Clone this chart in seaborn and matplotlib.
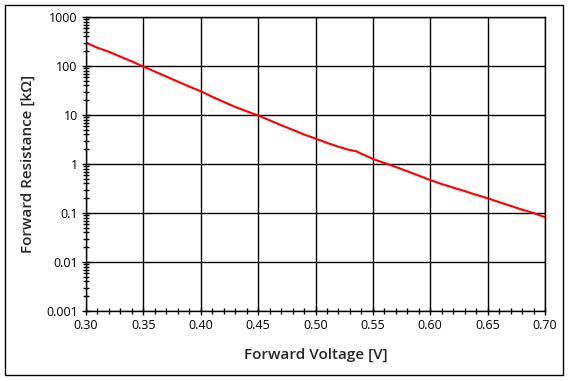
import matplotlib
matplotlib.use("Agg")
from matplotlib import pyplot as plt
from matplotlib.patches import Rectangle
from matplotlib.ticker import MultipleLocator, LogLocator, FixedLocator, FixedFormatter, NullFormatter
import pandas as pd
import seaborn as sns

# forward voltage [V] vs forward resistance [kOhm]
voltage = [0.30, 0.31, 0.32, 0.33, 0.34, 0.35, 0.36, 0.37, 0.38, 0.39,
           0.40, 0.41, 0.42, 0.43, 0.44, 0.45, 0.46, 0.47, 0.48, 0.49,
           0.50, 0.51, 0.52, 0.53, 0.535, 0.54, 0.55, 0.56, 0.57,
           0.58, 0.59, 0.60, 0.61, 0.62, 0.63, 0.64, 0.65, 0.66, 0.67,
           0.68, 0.69, 0.70]
resistance = [300, 235, 195, 155, 124, 97, 77, 61, 48, 38,
              30.5, 23.5, 18.5, 14.6, 11.9, 9.8, 7.8, 6.2, 5.0, 4.0,
              3.3, 2.7, 2.25, 1.92, 1.84, 1.62, 1.27, 1.05, 0.87,
              0.71, 0.58, 0.47, 0.39, 0.33, 0.28, 0.235, 0.2, 0.167, 0.14,
              0.117, 0.1, 0.082]

y_ticks = [0.001, 0.01, 0.1, 1, 10, 100, 1000]
y_tick_labels = ["0.001", "0.01", "0.1", "1", "10", "100", "1000"]
x_ticks = [0.30, 0.35, 0.40, 0.45, 0.50, 0.55, 0.60, 0.65, 0.70]
x_tick_labels = ["0.30", "0.35", "0.40", "0.45", "0.50", "0.55", "0.60", "0.65", "0.70"]

df = pd.DataFrame({"V": voltage, "R": resistance})

sns.set_style("white")
plt.rcParams["font.family"] = ["Open Sans", "DejaVu Sans"]

fig = plt.figure(figsize=(5.69, 3.81), dpi=100)
ax = fig.add_axes([86 / 569, 1 - 311 / 381, 459 / 569, 294 / 381])

sns.lineplot(data=df, x="V", y="R", ax=ax, color="#ff0000", linewidth=1.5)

ax.set_yscale("log")
ax.set_xlim(0.30, 0.70)
ax.set_ylim(0.001, 1000)

ax.xaxis.set_major_locator(FixedLocator(x_ticks))
ax.xaxis.set_major_formatter(FixedFormatter(x_tick_labels))
ax.xaxis.set_minor_locator(MultipleLocator(0.01))
ax.yaxis.set_major_locator(FixedLocator(y_ticks))
ax.yaxis.set_major_formatter(FixedFormatter(y_tick_labels))
ax.yaxis.set_minor_locator(LogLocator(base=10, subs=range(2, 10), numticks=20))
ax.yaxis.set_minor_formatter(NullFormatter())

ax.grid(True, which="major", color="black", linewidth=1.0)
ax.tick_params(which="major", direction="inout", length=6, width=1, colors="black",
               labelsize=9, pad=3)
ax.tick_params(which="minor", direction="inout", length=4, width=1, colors="black")
ax.tick_params(axis="x", which="both", bottom=True, top=False)
ax.tick_params(axis="y", which="both", left=True, right=False)
for s in ax.spines.values():
    s.set_color("black")
    s.set_linewidth(1.0)

ax.set_xlabel("Forward Voltage [V]", fontsize=11, fontweight="semibold", labelpad=11)
ax.set_ylabel("Forward Resistance [kΩ]", fontsize=11, fontweight="semibold", labelpad=8)

# outer frame around the whole chart
fig.patches.append(Rectangle((5 / 569, 6 / 381), 558 / 569, 370 / 381, transform=fig.transFigure,
                             fill=False, edgecolor="black", linewidth=1.0))

fig.savefig("out.png", dpi=100)
